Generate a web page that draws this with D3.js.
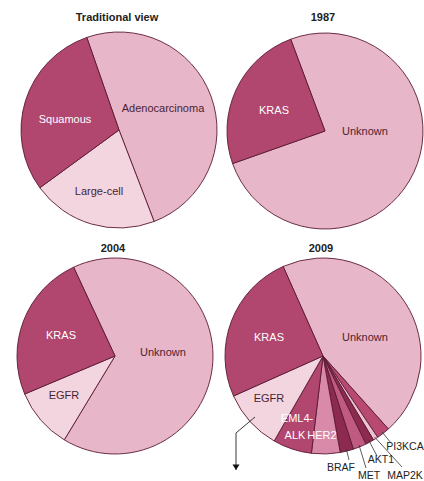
<!DOCTYPE html>
<html lang="en">
<head>
  <meta charset="utf-8">
  <title>Lung cancer molecular subsets</title>
  <script src="https://cdnjs.cloudflare.com/ajax/libs/d3/7.8.5/d3.min.js"></script>
  <style>
    body { margin: 0; background: #fff; }
    svg { display: block; font-family: 'Liberation Sans', Arial, sans-serif; }
  </style>
</head>
<body>
  <div id="chart"></div>
  <script>
    // data (percent of cases, clockwise from the first slice)
    const traditionalLabels = ['Adenocarcinoma', 'Large-cell', 'Squamous'];
    const traditionalValues = [49.5, 20.8, 29.7];

    const labels1987 = ['Unknown', 'KRAS'];
    const values1987 = [75.3, 24.7];

    const labels2004 = ['Unknown', 'EGFR', 'KRAS'];
    const values2004 = [65.6, 10, 24.4];

    const labels2009 = ['Unknown', 'PI3KCA', 'MAP2K', 'AKT1', 'MET', 'BRAF', 'HER2', 'EML4-ALK', 'EGFR', 'KRAS'];
    const values2009 = [45, 2.2, 0.8, 1.4, 2.2, 2.2, 4.7, 6.4, 10, 25];

    const titles = ['Traditional view', '1987', '2004', '2009'];

    // styles
    const colors = {
      'Adenocarcinoma': '#e7b6c9', 'Unknown': '#e7b6c9',
      'Large-cell': '#f2d5df', 'EGFR': '#f2d5df',
      'Squamous': '#b1466e', 'KRAS': '#b1466e', 'EML4-ALK': '#b1466e', 'PI3KCA': '#b84a72',
      'HER2': '#d88aa8', 'BRAF': '#8c2a4f', 'AKT1': '#8c2a4f', 'MET': '#c05a80', 'MAP2K': '#eec4d2'
    };
    const darkSlices = ['Squamous', 'KRAS', 'EML4-ALK', 'HER2'];

    const width = 424, height = 481, radius = 98;

    const panels = [
      { title: titles[0], labels: traditionalLabels, values: traditionalValues, start: -19.2, cx: 119, cy: 130, ty: 21,
        text: { 'Adenocarcinoma': [44, -22], 'Large-cell': [-20, 61], 'Squamous': [-54, -11] } },
      { title: titles[1], labels: labels1987, values: values1987, start: -20.5, cx: 325, cy: 131, ty: 21,
        text: { 'Unknown': [40, 0], 'KRAS': [-51, -21] } },
      { title: titles[2], labels: labels2004, values: values2004, start: -25, cx: 115, cy: 356, ty: 252,
        text: { 'Unknown': [48, -4], 'EGFR': [-51, 39], 'KRAS': [-54, -21] } },
      { title: titles[3], labels: labels2009, values: values2009, start: -24, cx: 323, cy: 356, ty: 252,
        text: { 'Unknown': [42, -19], 'EGFR': [-54, 42], 'KRAS': [-54, -19], 'HER2': [-1, 79] } }
    ];

    // small slices labelled outside: [line end dx, dy, text x, text baseline y]
    const outside = {
      'BRAF': [26, 104, 18, 115],
      'MET': [43, 112, 46, 123],
      'AKT1': [54, 100, 58, 107],
      'MAP2K': [79, 111, 82, 123],
      'PI3KCA': [68, 87, 82, 94]
    };

    const svg = d3.select('#chart')
      .append('svg')
      .attr('width', width)
      .attr('height', height);

    const defs = svg.append('defs');
    defs.append('marker')
      .attr('id', 'arrow')
      .attr('viewBox', '0 0 10 10')
      .attr('refX', 5).attr('refY', 10)
      .attr('markerWidth', 8).attr('markerHeight', 7)
      .attr('orient', '0')
      .attr('markerUnits', 'userSpaceOnUse')
      .append('path')
      .attr('d', 'M0,2 L10,2 L5,10 Z')
      .attr('fill', '#111');

    const arc = d3.arc().innerRadius(0).outerRadius(radius);
    const edgeArc = d3.arc().innerRadius(radius - 2).outerRadius(radius - 2);

    panels.forEach(p => {
      const pie = d3.pie()
        .sort(null)
        .value(d => d.value)
        .startAngle(p.start * Math.PI / 180)
        .endAngle(p.start * Math.PI / 180 + 2 * Math.PI);

      const data = p.labels.map((label, i) => ({ label, value: p.values[i] }));
      const arcs = pie(data);

      const g = svg.append('g')
        .attr('transform', `translate(${p.cx}, ${p.cy})`);

      g.selectAll('path.slice')
        .data(arcs)
        .enter()
        .append('path')
        .attr('class', 'slice')
        .attr('d', arc)
        .attr('fill', d => colors[d.data.label])
        .attr('stroke', '#5a1a33')
        .attr('stroke-width', 0.9)
        .attr('stroke-linejoin', 'round');

      // title
      svg.append('text')
        .attr('x', p.cx - 2)
        .attr('y', p.ty)
        .attr('text-anchor', 'middle')
        .attr('font-size', 11)
        .attr('font-weight', 'bold')
        .attr('fill', '#222')
        .text(p.title);

      // inner labels
      arcs.filter(d => p.text[d.data.label]).forEach(d => {
        const [dx, dy] = p.text[d.data.label];
        g.append('text')
          .attr('x', dx)
          .attr('y', dy)
          .attr('dy', '0.35em')
          .attr('text-anchor', 'middle')
          .attr('font-size', 11)
          .attr('fill', darkSlices.includes(d.data.label) ? '#fff' : '#4a1f33')
          .text(d.data.label);
      });

      if (p.labels.includes('EML4-ALK')) {
        const t = g.append('text')
          .attr('text-anchor', 'middle')
          .attr('font-size', 11)
          .attr('fill', '#fff');
        t.append('tspan').attr('x', -26).attr('y', 66).text('EML4-');
        t.append('tspan').attr('x', -28).attr('y', 83).text('ALK');
      }

      // outside labels with leader lines
      arcs.filter(d => outside[d.data.label]).forEach(d => {
        const [lx, ly, tx, ty] = outside[d.data.label];
        const [sx, sy] = edgeArc.centroid(d);
        g.append('line')
          .attr('x1', sx).attr('y1', sy)
          .attr('x2', lx).attr('y2', ly)
          .attr('stroke', '#333')
          .attr('stroke-width', 0.8);
        g.append('text')
          .attr('x', tx)
          .attr('y', ty)
          .attr('text-anchor', 'middle')
          .attr('font-size', 10.5)
          .attr('fill', '#222')
          .text(d.data.label);
      });

      // EGFR arrow
      if (p.labels.includes('EML4-ALK')) {
        g.append('path')
          .attr('d', 'M-68,61 L-87,77 L-87,114')
          .attr('fill', 'none')
          .attr('stroke', '#222')
          .attr('stroke-width', 0.9)
          .attr('marker-end', 'url(#arrow)');
      }
    });
  </script>
</body>
</html>
